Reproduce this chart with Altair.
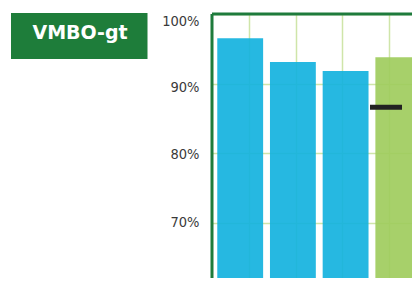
import altair as alt
import pandas as pd

# ---- data ----
title_text = ["VMBO-gt"]
categories = ["Cat 1", "Cat 2", "Cat 3", "Cat 4"]
values = [0.965, 0.931, 0.918, 0.938]
series = ["school", "school", "school", "vergelijking"]
marker_category = ["Cat 4"]
marker_value = [0.866]
y_ticks = [0.6, 0.7, 0.8, 0.9, 1.0]
grid_ticks = [0, 1, 2, 3, 4]

W, H = 200, 264
DARK = "#1e7b3c"
GRID = "#cfe5a9"
LABEL_FONT = "DejaVu Sans Condensed, sans-serif"

bars_df = pd.DataFrame({"cat": categories, "val": values, "series": series})
marker_df = pd.DataFrame({"cat": marker_category, "val": marker_value})
grid_df = pd.DataFrame({"g": grid_ticks})
one = pd.DataFrame({"t": title_text})

band = alt.Scale(domain=categories, range=[0, 214.5], paddingInner=0.13, paddingOuter=0.1)
yq = alt.Scale(domain=[1.0 - H / 696.0, 1.0], nice=False, zero=False)
yaxis = alt.Axis(values=y_ticks, format=".0%", grid=True, gridColor=GRID, gridWidth=1.5,
                 ticks=False, domain=False, title=None, labelPadding=13,
                 labelFont=LABEL_FONT, labelFontSize=14.5, labelColor="#3a3a3a",
                 labelOffset={"condition": [
                     {"test": "datum.value >= 0.995", "value": 7},
                     {"test": "abs(datum.value - 0.9) < 0.005", "value": 4},
                     {"test": "abs(datum.value - 0.8) < 0.005", "value": 1}],
                     "value": -0.5})

grid_layer = alt.Chart(grid_df).mark_rule(opacity=0).encode(
    x=alt.X("g:Q", scale=alt.Scale(domain=[-0.79, -0.79 + W / 46.7], nice=False, zero=False),
            axis=alt.Axis(values=grid_ticks, grid=True, gridColor=GRID, gridWidth=1.5,
                          labels=False, ticks=False, domain=False, title=None))
)

bars = alt.Chart(bars_df).mark_bar(opacity=0.92).encode(
    x=alt.X("cat:N", scale=band, axis=None),
    y=alt.Y("val:Q", scale=yq, axis=yaxis),
    color=alt.Color("series:N", legend=None,
                    scale=alt.Scale(domain=["school", "vergelijking"], range=["#14b2de", "#a0cc5d"])),
)

marker = alt.Chart(marker_df).mark_bar(color="#222222", width=32, xOffset=-12.3,
                                       yOffset=-2.5, y2Offset=2.5).encode(
    x=alt.X("cat:N", scale=band, axis=None),
    y=alt.Y("val:Q", scale=yq, axis=yaxis),
    y2="val:Q",
)

left_border = alt.Chart(one).mark_rule(color=DARK, strokeWidth=3).encode(
    x=alt.value(0), y=alt.value(0), y2=alt.value(H))
top_border = alt.Chart(one).mark_rule(color=DARK, strokeWidth=3).encode(
    x=alt.value(0), x2=alt.value(W), y=alt.value(0))

title_box = alt.Chart(one).mark_rect(color="#1e7d3a").encode(
    x=alt.value(-201), x2=alt.value(-64.5), y=alt.value(-1), y2=alt.value(45))
title_txt = alt.Chart(one).mark_text(color="white", font="DejaVu Sans", fontWeight="bold",
                                     fontSize=19, align="center", baseline="alphabetic").encode(
    x=alt.value(-132), y=alt.value(25), text="t:N")

chart = alt.layer(grid_layer, bars, marker, left_border, top_border, title_box, title_txt).resolve_scale(
    x="independent"
).properties(
    width=W, height=H, autosize="none",
    padding={"left": 204, "top": 6, "right": 0, "bottom": 0},
).configure_view(stroke=None)

chart.save("out.html", embed_options={"renderer": "svg", "actions": False})
